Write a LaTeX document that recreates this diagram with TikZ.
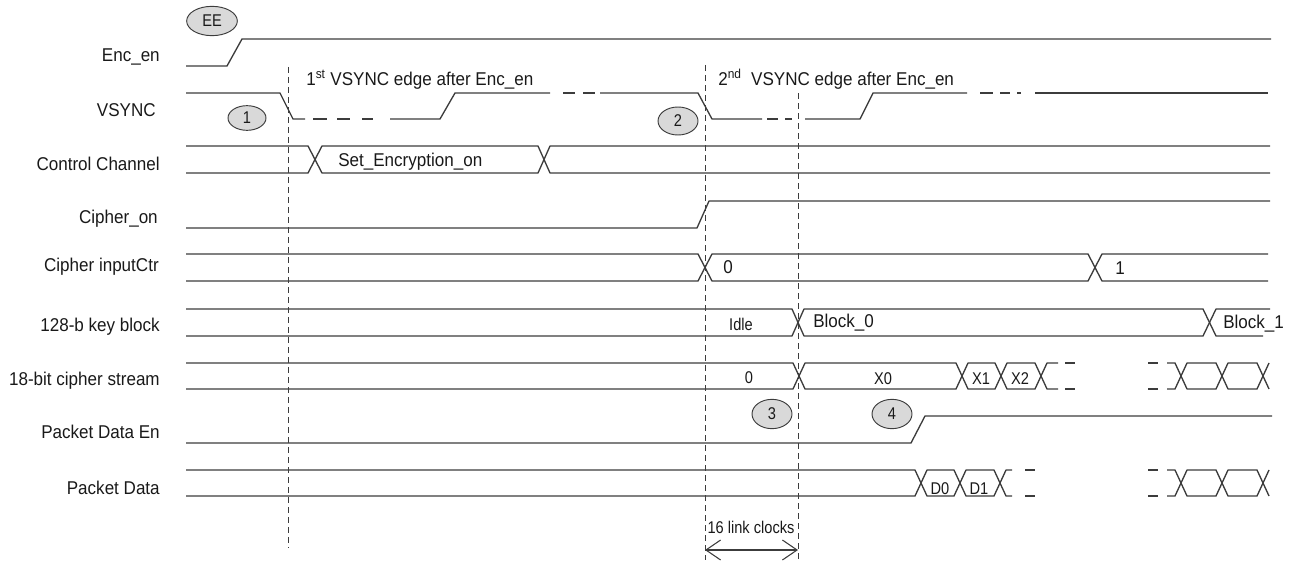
\documentclass[tikz,border=0pt]{standalone}
\usepackage{fontspec}
\setmainfont[FakeStretch=0.92]{Liberation Sans}
\newfontfamily\smallf[FakeStretch=0.86]{Liberation Sans}
\usetikzlibrary{arrows.meta,shapes.geometric}
\definecolor{sigc}{RGB}{60,60,60}
\definecolor{txtc}{RGB}{25,25,25}
\definecolor{markc}{RGB}{217,217,217}
\begin{document}
\begin{tikzpicture}[x=0.75pt,y=-0.75pt,
  sig/.style={draw=sigc, line width=1pt, line join=round},
  vdash/.style={draw=sigc, line width=0.7pt, dash pattern=on 4.5pt off 3pt},
  lab/.style={anchor=base east, font=\fontsize{13.9}{16}\selectfont, text=txtc, inner sep=0pt},
  txt/.style={anchor=base west, font=\fontsize{13.9}{16}\selectfont, text=txtc, inner sep=0pt},
  stxt/.style={anchor=base, font=\smallf\fontsize{12.75}{15}\selectfont, text=txtc, inner sep=0pt},
  marker/.style={ellipse, draw=sigc, fill=markc, line width=0.7pt, inner sep=0pt,
    minimum width=30pt, minimum height=21pt, font=\smallf\fontsize{12.75}{15}\selectfont, text=txtc},
  meas/.style={draw=sigc, line width=0.8pt, {Straight Barb[length=11pt,width=15pt]}-{Straight Barb[length=11pt,width=15pt]}}
]
\useasboundingbox (0,0) rectangle (1291,560);

% signal names
\node[lab] (lEnc) at (160,61.5) {Enc\_en};
\node[lab] (lVs) at (156,116) {VSYNC};
\node[lab] (lCc) at (160,170) {Control Channel};
\node[lab] (lCo) at (158,223) {Cipher\_on};
\node[lab] (lCi) at (159,271) {Cipher inputCtr};
\node[lab] (lKb) at (160,331.5) {128-b key block};
\node[lab] (lCs) at (160,385) {18-bit cipher stream};
\node[lab] (lPe) at (160,438) {Packet Data En};
\node[lab] (lPd) at (160,494) {Packet Data};

% vertical reference lines
\coordinate (v1t) at (288,67);  \coordinate (v1b) at (288,548);
\coordinate (v2t) at (705,65);  \coordinate (v2b) at (705,560);
\coordinate (v3t) at (798,93);  \coordinate (v3b) at (798,560);
\draw[vdash] (v1t) -- (v1b);
\draw[vdash] (v2t) -- (v2b);
\draw[vdash] (v3t) -- (v3b);

% Enc_en
\draw[sig] (186,66) -- (227,66) -- (242,39) -- (1271,39);

% VSYNC
\draw[sig] (186,93) -- (280,93) -- (293,119) -- (305,119);
\draw[sig] (313,119)--(327,119) (337,119)--(350,119) (362,119)--(373,119);
\draw[sig] (390,119) -- (440,119) -- (455,93) -- (550,93);
\draw[sig] (563,93)--(575,93) (583,93)--(595,93);
\draw[sig] (600,93) -- (698,93) -- (712,119) -- (762,119);
\draw[sig] (767,119)--(778,119) (785,119)--(792,119);
\draw[sig] (805,119) -- (860,119) -- (873,93) -- (967,93);
\draw[sig] (980,93)--(993,93) (1000,93)--(1010,93) (1017,93)--(1021,93);
\draw[sig] (1035,93) -- (1268,93);

% Control Channel
\draw[sig] (186,146) -- (308,146) -- (322,173) -- (538,173) -- (550,146) -- (1270,146);
\draw[sig] (186,173) -- (308,173) -- (322,146) -- (538,146) -- (550,173) -- (1270,173);

% Cipher_on
\draw[sig] (186,228) -- (697,228) -- (709,201) -- (1270,201);

% Cipher inputCtr
\draw[sig] (186,254) -- (698,254) -- (712,281) -- (1088,281) -- (1102,254) -- (1268,254);
\draw[sig] (186,281) -- (698,281) -- (712,254) -- (1088,254) -- (1102,281) -- (1268,281);

% 128-b key block
\draw[sig] (186,309) -- (792,309) -- (804,336) -- (1203,336) -- (1216,309) -- (1270,309);
\draw[sig] (186,336) -- (792,336) -- (804,309) -- (1203,309) -- (1216,336) -- (1263,336);

% 18-bit cipher stream
\draw[sig] (186,363) -- (793,363) -- (805,389) -- (956,389) -- (968,363) -- (995,363) -- (1007,389) -- (1035,389) -- (1047,363) -- (1058,363);
\draw[sig] (186,389) -- (793,389) -- (805,363) -- (956,363) -- (968,389) -- (995,389) -- (1007,363) -- (1035,363) -- (1047,389) -- (1058,389);
\draw[sig] (1065,363)--(1075,363) (1065,389)--(1075,389);
\draw[sig] (1148,363)--(1158,363) (1148,389)--(1158,389);
\draw[sig] (1167,363) -- (1175,363) -- (1187,389) -- (1216,389) -- (1228,363) -- (1257,363) -- (1269,389);
\draw[sig] (1167,389) -- (1175,389) -- (1187,363) -- (1216,363) -- (1228,389) -- (1257,389) -- (1269,363);

% Packet Data En
\draw[sig] (186,443) -- (911,443) -- (925,416) -- (1272,416);

% Packet Data
\draw[sig] (186,470) -- (915,470) -- (927,496) -- (954,496) -- (966,470) -- (994,470) -- (1006,496) -- (1012,496);
\draw[sig] (186,496) -- (915,496) -- (927,470) -- (954,470) -- (966,496) -- (994,496) -- (1006,470) -- (1012,470);
\draw[sig] (1025,470)--(1035,470) (1025,496)--(1035,496);
\draw[sig] (1148,470)--(1158,470) (1148,496)--(1158,496);
\draw[sig] (1167,470) -- (1175,470) -- (1187,496) -- (1216,496) -- (1228,470) -- (1257,470) -- (1269,496);
\draw[sig] (1167,496) -- (1175,496) -- (1187,470) -- (1216,470) -- (1228,496) -- (1257,496) -- (1269,470);

% annotations
\node[txt] (t1) at (306,85) {1\textsuperscript{st} VSYNC edge after Enc\_en};
\node[txt] (t2) at (718,85) {2\textsuperscript{nd}\ \ VSYNC edge after Enc\_en};
\node[txt] (tSe) at (338,166) {Set\_Encryption\_on};
\node[txt] (tC0) at (723,273) {0};
\node[txt] (tC1) at (1115,274) {1};
\node[stxt] (tIdle) at (741,330) {Idle};
\node[txt] (tB0) at (813,327.5) {Block\_0};
\node[txt] (tB1) at (1223,328) {Block\_1};
\node[stxt] (tS0) at (749,383) {0};
\node[stxt] (tX0) at (883,384) {X0};
\node[stxt] (tX1) at (981,384) {X1};
\node[stxt] (tX2) at (1020,384) {X2};
\node[stxt] (tD0) at (940,494) {D0};
\node[stxt] (tD1) at (979,494) {D1};

% markers
\node[marker, minimum width=38pt, minimum height=22pt] (mEE) at (212,21) {EE};
\node[marker, minimum width=28.5pt, minimum height=18.5pt] (m1) at (247,118) {1};
\node[marker] (m2) at (678,121) {2};
\node[marker, minimum height=22pt] (m3) at (772,414) {3};
\node[marker, minimum height=22pt] (m4) at (892,414) {4};

% 16 link clocks
\node[stxt] (tLc) at (751,533) {16 link clocks};
\coordinate (a1) at (705,550);
\coordinate (a2) at (798,550);
\draw[meas] (a1) -- (a2);
\end{tikzpicture}
\end{document}
